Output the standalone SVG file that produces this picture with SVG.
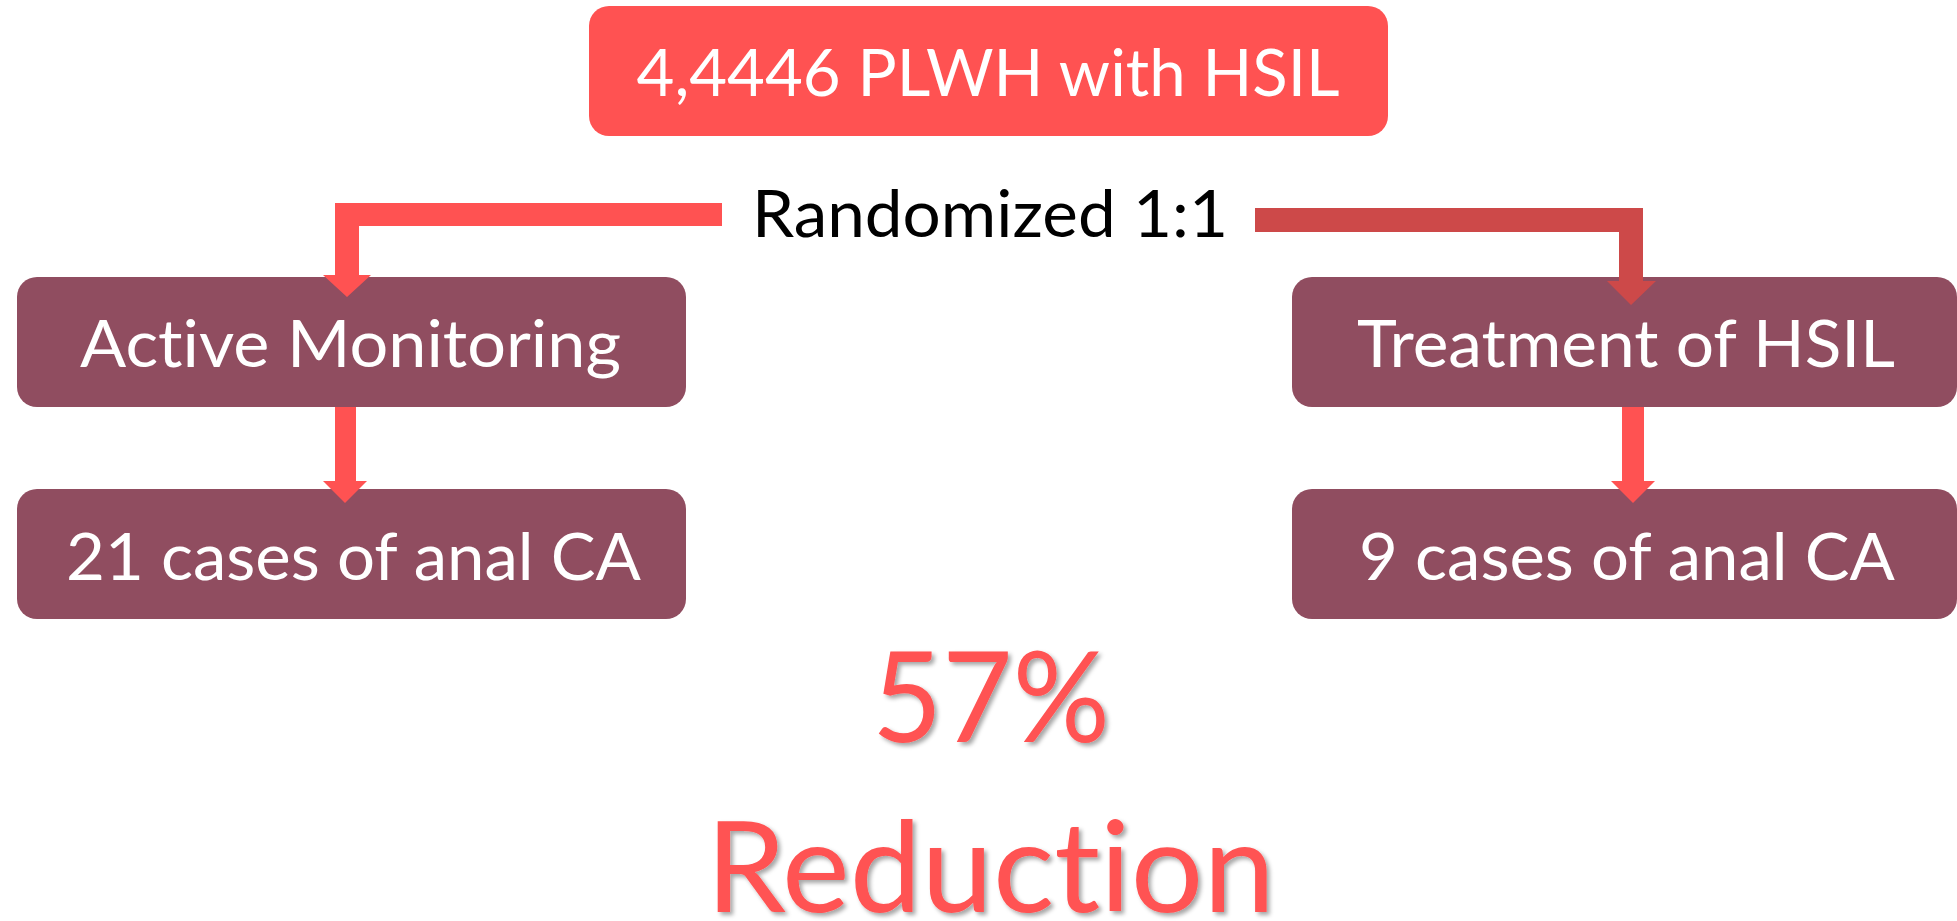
<svg xmlns="http://www.w3.org/2000/svg" width="1957" height="921" viewBox="0 0 1957 921">
  <defs>
    <style>
      .t { font-family: Lato, "Open Sans", "Liberation Sans", sans-serif; font-variant-ligatures: none; font-feature-settings: "liga" 0, "dlig" 0, "clig" 0; }
      .box { fill: #904D60; }
      .wt { fill: #FFFFFF; font-size: 66px; }
      .red { fill: #FF5252; }
      .dark { fill: #CD4949; }
      .big { fill: #FF5252; font-size: 127px; filter: url(#sh); }
    </style>
    <filter id="sh" x="-10%" y="-10%" width="120%" height="130%">
      <feDropShadow dx="3" dy="3" stdDeviation="2" flood-color="#000000" flood-opacity="0.35"/>
    </filter>
  </defs>
  <rect width="1957" height="921" fill="#FFFFFF"/>

  <g id="node-top">
    <rect x="589" y="6" width="799" height="130" rx="20" ry="20" class="red"/>
    <text class="t wt" x="988" y="96" font-size="67" text-anchor="middle" textLength="703" lengthAdjust="spacingAndGlyphs">4,4446 PLWH with HSIL</text>
  </g>

  <g id="label-randomized">
    <text class="t" x="752" y="237" font-size="65" fill="#000000" textLength="476" lengthAdjust="spacingAndGlyphs">Randomized 1:1</text>
  </g>

  <g id="node-active">
    <rect x="17" y="277" width="669" height="130" rx="20" ry="20" class="box"/>
    <text class="t wt" x="80" y="367" textLength="541" lengthAdjust="spacingAndGlyphs">Active Monitoring</text>
  </g>

  <g id="node-treatment">
    <rect x="1292" y="277" width="665" height="130" rx="20" ry="20" class="box"/>
    <text class="t wt" x="1357" y="367" textLength="538" lengthAdjust="spacingAndGlyphs">Treatment of HSIL</text>
  </g>

  <g id="node-cases21">
    <rect x="17" y="489" width="669" height="130" rx="20" ry="20" class="box"/>
    <text class="t wt" x="66" y="580" textLength="575" lengthAdjust="spacingAndGlyphs">21 cases of anal CA</text>
  </g>

  <g id="node-cases9">
    <rect x="1292" y="489" width="665" height="130" rx="20" ry="20" class="box"/>
    <text class="t wt" x="1359" y="580" textLength="536" lengthAdjust="spacingAndGlyphs">9 cases of anal CA</text>
  </g>

  <g id="connectors">
    <polygon class="red" points="722,203 335,203 335,275 323,275 347,297 371,275 359,275 359,226 722,226"/>
    <polygon class="dark" points="1255,208 1643,208 1643,281 1656,281 1631,305 1607,281 1619,281 1619,232 1255,232"/>
    <polygon class="red" points="335,407 356,407 356,481 367,481 345,503 323,481 335,481"/>
    <polygon class="red" points="1622,407 1644,407 1644,481 1655,481 1633,503 1611,481 1622,481"/>
  </g>

  <g id="result">
    <text class="t big" x="872" y="742" textLength="238" lengthAdjust="spacingAndGlyphs">57%</text>
    <text class="t big" x="706" y="912" textLength="569" lengthAdjust="spacingAndGlyphs">Reduction</text>
  </g>
</svg>
